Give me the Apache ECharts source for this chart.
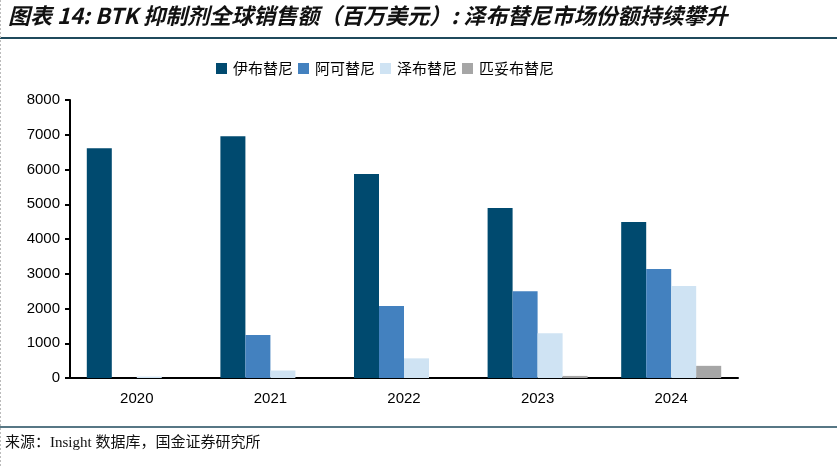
<!DOCTYPE html>
<html><head><meta charset="utf-8">
<script src="https://cdn.jsdelivr.net/npm/echarts@6/dist/echarts.min.js"></script>
<style>html,body{margin:0;padding:0;background:#fff}#c{width:837px;height:467px}</style>
</head><body><div id="c"></div>
<script>
const categories = ['2020','2021','2022','2023','2024'];
const ibrutinib = [6610, 6960, 5870, 4890, 4490];
const acalabrutinib = [null, 1240, 2070, 2500, 3140];
const zanubrutinib = [40, 215, 565, 1290, 2650];
const pirtobrutinib = [null, null, null, 60, 350];
const seriesNames = ['伊布替尼','阿可替尼','泽布替尼','匹妥布替尼'];
const colors = ['#004A6F','#4381BF','#CFE3F3','#A6A6A6'];
const yTicks = [0,1000,2000,3000,4000,5000,6000,7000,8000];

const chart = echarts.init(document.getElementById('c'));
const data = [ibrutinib, acalabrutinib, zanubrutinib, pirtobrutinib];
chart.setOption({
  animation: false,
  color: colors,
  textStyle: {fontFamily: 'Liberation Sans, Arial, sans-serif'},
  legend: {
    left: 216, top: 61, padding: 0, itemWidth: 11, itemHeight: 11, itemGap: 5,
    icon: 'rect',
    textStyle: {fontSize: 15, color: '#000', fontFamily: 'Noto Sans CJK SC', padding: [0,0,0,1]},
    data: seriesNames
  },
  grid: {left: 70, right: 99, top: 100, bottom: 89},
  xAxis: {
    type: 'category', data: categories,
    axisLine: {lineStyle: {color: '#000', width: 2}},
    axisTick: {inside: true, length: 6, lineStyle: {color: '#000', width: 2}},
    axisLabel: {fontSize: 15, color: '#000', margin: 13}
  },
  yAxis: {
    type: 'value', min: yTicks[0], max: yTicks[yTicks.length-1], interval: 1000,
    splitLine: {show: false},
    axisLine: {show: true, lineStyle: {color: '#000', width: 2}},
    axisTick: {show: true, length: 5, lineStyle: {color: '#000', width: 2}},
    axisLabel: {fontSize: 15, color: '#000', margin: 10, formatter: v => String(v)}
  },
  series: seriesNames.map((n, i) => ({
    name: n, type: 'bar', data: data[i], barWidth: 25, barGap: '0%'
  })),
  graphic: [
    {type: 'text', left: 8, top: 5, style: {text: '图表 14: BTK 抑制剂全球销售额（百万美元）: 泽布替尼市场份额持续攀升', font: 'italic bold 22px "Noto Sans CJK SC"', fill: '#111'}},
    {type: 'line', shape: {x1: 0, y1: 38, x2: 837, y2: 38}, style: {stroke: '#1F4A5C', lineWidth: 2}},
    {type: 'line', shape: {x1: 0, y1: 427, x2: 837, y2: 427}, style: {stroke: '#1F4A5C', lineWidth: 1.5}},
    {type: 'line', shape: {x1: 0.5, y1: 0, x2: 0.5, y2: 467}, style: {stroke: '#BBBBBB', lineWidth: 1, lineDash: [2,2]}},
    {type: 'text', left: 5, top: 436, style: {text: '来源：Insight 数据库，国金证券研究所', font: '15px "Liberation Serif", "Noto Sans CJK SC"', fill: '#111'}}
  ]
});
</script></body></html>
